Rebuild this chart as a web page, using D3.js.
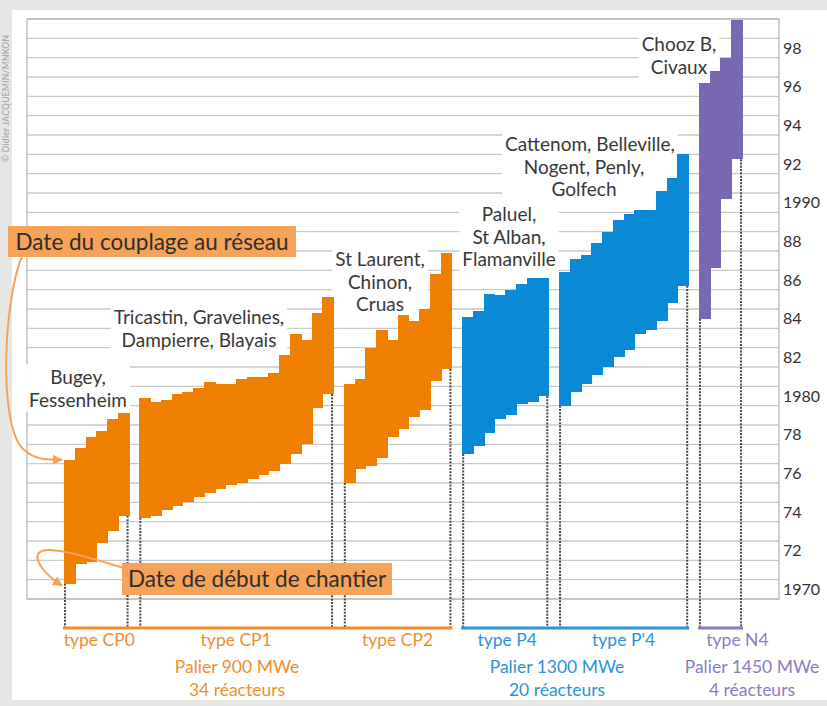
<!DOCTYPE html>
<html>
<head>
<meta charset="utf-8">
<script src="https://cdn.jsdelivr.net/npm/d3@7"></script>
<style>
  body { margin: 0; background: #e6e6e4; }
  svg { display: block; }
</style>
</head>
<body>
<div id="chart"></div>
<script>
// years: start of construction (bottom of bar), grid coupling (top of bar)
const cp0Start = [1970.8, 1971.8, 1971.9, 1972.9, 1973.5, 1974.3];
const cp0Grid  = [1977.2, 1977.8, 1978.4, 1978.7, 1979.3, 1979.6];

const cp1Start = [1974.2, 1974.3, 1974.6, 1974.8, 1975.0, 1975.3, 1975.5, 1975.7, 1975.9,
                  1976.0, 1976.2, 1976.4, 1976.6, 1977.0, 1977.5, 1978.0, 1979.9, 1980.6];
const cp1Grid  = [1980.4, 1980.2, 1980.3, 1980.6, 1980.7, 1980.9, 1981.2, 1981.1, 1981.1,
                  1981.4, 1981.5, 1981.5, 1981.7, 1982.6, 1983.7, 1983.4, 1984.8, 1985.6];

const cp2Start = [1976.0, 1976.7, 1976.9, 1977.3, 1978.4, 1978.8, 1979.4, 1979.8, 1981.3, 1981.9];
const cp2Grid  = [1981.1, 1981.4, 1983.0, 1983.9, 1983.4, 1984.7, 1984.4, 1985.0, 1986.8, 1987.9];

const p4Start  = [1977.5, 1977.9, 1978.6, 1979.3, 1979.5, 1980.1, 1980.2, 1980.5];
const p4Grid   = [1984.6, 1984.9, 1985.8, 1985.7, 1986.0, 1986.3, 1986.6, 1986.6];

const pp4Start = [1980.0, 1980.7, 1981.1, 1981.6, 1982.0, 1982.5, 1982.9, 1983.7, 1983.9, 1984.4, 1985.3, 1986.2];
const pp4Grid  = [1986.9, 1987.6, 1987.8, 1988.4, 1989.0, 1989.6, 1989.9, 1990.1, 1990.1, 1991.1, 1991.8, 1993.0];

const n4Start  = [1984.5, 1987.1, 1990.7, 1992.75];
const n4Grid   = [1996.7, 1997.3, 1998.0, 1999.95];

const groupNames = ["type CP0", "type CP1", "type CP2", "type P4", "type P'4", "type N4"];
const groupPalier = [0, 0, 0, 1, 1, 2];
const palierNames = ["Palier 900 MWe", "Palier 1300 MWe", "Palier 1450 MWe"];
const palierCounts = ["34 réacteurs", "20 réacteurs", "4 réacteurs"];

const siteLabels = [
  ["Bugey,", "Fessenheim"],
  ["Tricastin, Gravelines,", "Dampierre, Blayais"],
  ["St Laurent,", "Chinon,", "Cruas"],
  ["Paluel,", "St Alban,", "Flamanville"],
  ["Cattenom, Belleville,", "Nogent, Penly,", "Golfech"],
  ["Chooz B,", "Civaux"]
];

const yearTicks = [1970, 1972, 1974, 1976, 1978, 1980, 1982, 1984, 1986, 1988, 1990, 1992, 1994, 1996, 1998];
const tickLabels = ["1970", "72", "74", "76", "78", "1980", "82", "84", "86", "88", "1990", "92", "94", "96", "98"];

const barColors = ["#ee7f00", "#0a8ad4", "#7868b1"];
const textColors = ["#f18d2c", "#2c93d8", "#8b7dc3"];
const noteColor = "#f6a257";

const width = 827, height = 706;
const frame = { left: 27, right: 779, top: 19, bottom: 599 };

const starts = [cp0Start, cp1Start, cp2Start, p4Start, pp4Start, n4Start];
const grids = [cp0Grid, cp1Grid, cp2Grid, p4Grid, pp4Grid, n4Grid];

// one slot per reactor, plus one empty slot between two types
const reactors = [];
let slot = 0;
starts.forEach((s, g) => {
  s.forEach((v, i) => reactors.push({ group: g, start: v, grid: grids[g][i], slot: slot++ }));
  slot++;
});

const x = d3.scaleBand().domain(d3.range(slot - 1)).range([64, 742]).padding(0);
const y = d3.scaleLinear().domain([1970, 2000]).range([frame.bottom, frame.top]);

const svg = d3.select("#chart").append("svg")
  .attr("width", width)
  .attr("height", height)
  .style("font-family", "Lato, 'Open Sans', sans-serif");

// white sheet
svg.append("rect").attr("x", 12).attr("y", 10).attr("width", width - 12).attr("height", height - 16)
  .attr("fill", "#fff");

svg.append("text")
  .attr("transform", "translate(9,162) rotate(-90)")
  .attr("font-size", 8.5).attr("fill", "#a0a0a0").attr("letter-spacing", 0.3)
  .text("© Didier JACQUEMIN/MNKON");

// year grid
svg.append("g").selectAll("line")
  .data(d3.range(1970, 2001))
  .join("line")
  .attr("x1", frame.left).attr("x2", frame.right)
  .attr("y1", d => y(d)).attr("y2", d => y(d))
  .attr("stroke", "#c9c9c9").attr("stroke-width", 1.4);

svg.append("rect")
  .attr("x", frame.left).attr("y", frame.top)
  .attr("width", frame.right - frame.left).attr("height", frame.bottom - frame.top)
  .attr("fill", "none").attr("stroke", "#bdbdbd").attr("stroke-width", 1.4);

svg.append("g").selectAll("text")
  .data(yearTicks)
  .join("text")
  .attr("x", frame.right + 4)
  .attr("y", d => y(d + 0.5))
  .attr("dy", "0.36em")
  .attr("font-size", 16)
  .attr("fill", "#333")
  .text((d, i) => tickLabels[i]);

// group extents
const groups = groupNames.map((name, g) => {
  const rs = reactors.filter(r => r.group === g);
  const first = rs[0], last = rs[rs.length - 1];
  return {
    name, g,
    x0: x(first.slot), x1: x(last.slot) + x.bandwidth(),
    yFirst: y(first.start), yLast: y(last.start)
  };
});

// site labels with white background (x centre, baseline of first line)
const labelPos = [
  [78, 384], [199, 324], [380, 266], [509, 221], [584, 151], [679, 51]
];
const labelG = svg.append("g");
siteLabels.forEach((lines, i) => {
  const g = labelG.append("g");
  const t = g.append("text")
    .attr("text-anchor", "middle")
    .attr("font-size", 19)
    .attr("fill", "#383838");
  lines.forEach((l, k) => {
    const tx = i === 4 && k === 0 ? labelPos[i][0] + 6 : labelPos[i][0];
    t.append("tspan").attr("x", tx).attr("y", labelPos[i][1] + k * 22.5).text(l);
  });
  const b = t.node().getBBox();
  g.insert("rect", "text")
    .attr("x", b.x - 3).attr("y", b.y - 1)
    .attr("width", b.width + 6).attr("height", b.height + 2)
    .attr("fill", "#fff");
});

// dashed guides from the outer bars to the brackets
const bracketY = 628;
const guides = [];
groups.forEach(gr => {
  guides.push({ x: gr.x0 + 1, y: gr.yFirst });
  guides.push({ x: gr.x1 - 1, y: gr.yLast });
});
svg.append("g").selectAll("line")
  .data(guides)
  .join("line")
  .attr("x1", d => d.x).attr("x2", d => d.x)
  .attr("y1", d => d.y).attr("y2", bracketY)
  .attr("stroke", "#4a4a4a").attr("stroke-width", 2)
  .attr("stroke-dasharray", "2,1.3");

// reactor bars
svg.append("g")
  .attr("shape-rendering", "crispEdges")
  .selectAll("rect")
  .data(reactors)
  .join("rect")
  .attr("x", d => x(d.slot))
  .attr("width", x.bandwidth() + 1)
  .attr("y", d => y(d.grid))
  .attr("height", d => y(d.start) - y(d.grid))
  .attr("fill", d => barColors[groupPalier[d.group]]);

// brackets per palier
const paliers = palierNames.map((name, p) => {
  const gs = groups.filter(gr => groupPalier[gr.g] === p);
  return { p, x0: gs[0].x0, x1: gs[gs.length - 1].x1 };
});
svg.append("g").selectAll("line")
  .data(paliers)
  .join("line")
  .attr("x1", d => d.x0 - 1).attr("x2", d => d.x1 + 1)
  .attr("y1", bracketY).attr("y2", bracketY)
  .attr("stroke", d => textColors[d.p]).attr("stroke-width", 3);

const typeShift = [3, 0, 0, 2, 0, 17];
svg.append("g").selectAll("text")
  .data(groups)
  .join("text")
  .attr("x", d => (d.x0 + d.x1) / 2 + typeShift[d.g])
  .attr("y", 646)
  .attr("text-anchor", "middle")
  .attr("font-size", 17.5)
  .attr("fill", d => textColors[groupPalier[d.g]])
  .text(d => d.name);

const palierX = [237, 557, 752];
const palierText = svg.append("g").selectAll("text")
  .data(paliers)
  .join("text")
  .attr("text-anchor", "middle")
  .attr("font-size", 17.5)
  .attr("fill", d => textColors[d.p]);
palierText.append("tspan").attr("x", d => palierX[d.p]).attr("y", 673).text(d => palierNames[d.p]);
palierText.append("tspan").attr("x", d => palierX[d.p]).attr("y", 696).text(d => palierCounts[d.p]);

// annotations
svg.append("defs").append("marker")
  .attr("id", "head")
  .attr("viewBox", "0 0 10 10")
  .attr("refX", 9).attr("refY", 5)
  .attr("markerWidth", 5).attr("markerHeight", 5)
  .attr("orient", "auto")
  .append("path").attr("d", "M0,0L10,5L0,10Z").attr("fill", noteColor);

const firstBar = reactors[0];
const bx = x(firstBar.slot);
svg.append("path")
  .attr("d", `M22,256 C4,300 -2,420 22,448 C34,460 46,${y(firstBar.grid)} ${bx - 2},${y(firstBar.grid)}`)
  .attr("fill", "none").attr("stroke", noteColor).attr("stroke-width", 2)
  .attr("marker-end", "url(#head)");
svg.append("path")
  .attr("d", `M124,568 C90,558 50,545 40,552 C32,558 44,574 ${bx - 2},${y(firstBar.start) + 2}`)
  .attr("fill", "none").attr("stroke", noteColor).attr("stroke-width", 2)
  .attr("marker-end", "url(#head)");

const notes = [
  { text: "Date du couplage au réseau", x: 8, y: 226, w: 288, h: 31 },
  { text: "Date de début de chantier", x: 122, y: 563, w: 270, h: 32 }
];
const noteG = svg.append("g").selectAll("g").data(notes).join("g");
noteG.append("rect")
  .attr("x", d => d.x).attr("y", d => d.y).attr("width", d => d.w).attr("height", d => d.h)
  .attr("fill", noteColor);
noteG.append("text")
  .attr("x", d => d.x + d.w / 2).attr("y", d => d.y + d.h / 2)
  .attr("dy", "0.36em").attr("text-anchor", "middle")
  .attr("font-size", 22.5).attr("fill", "#2e2e2e")
  .text(d => d.text);
</script>
</body>
</html>
